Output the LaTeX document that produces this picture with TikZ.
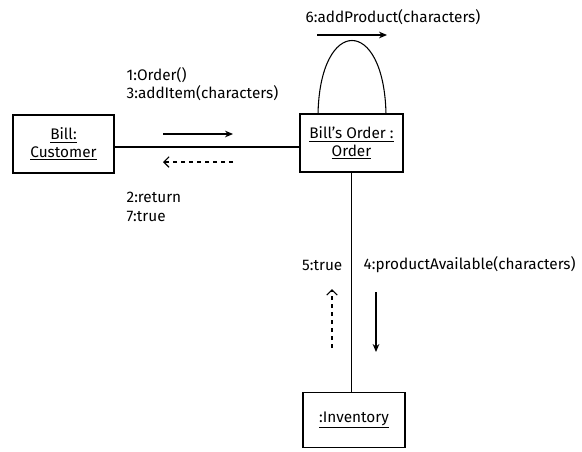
\documentclass[tikz,border=0pt]{standalone}
\usepackage{fontspec}
\setmainfont{Fira Sans}
\usetikzlibrary{arrows.meta}
\tikzset{
  objbox/.style={draw, line width=0.8pt, align=center, inner sep=2pt},
  msg/.style={-{Stealth[length=6pt,width=5pt]}, line width=0.8pt},
  reply/.style={-{Straight Barb[length=4pt]}, dashed, line width=0.8pt}
}
\begin{document}
\begin{tikzpicture}[x=0.75pt,y=0.75pt,yscale=-1,xscale=1,font=\fontsize{11.5}{14}\selectfont]
\useasboundingbox (0,0) rectangle (582,451);
% Objects
\node [objbox, minimum width=75.75pt, minimum height=43.5pt] (cust) at (63.5,144) {\underline{Bill:}\\[-1pt]\underline{Customer}};
\node [objbox, minimum width=77.25pt, minimum height=43.5pt] (ord) at (351.5,143) {\underline{Bill's Order :}\\[-1pt]\underline{Order}};
\node [objbox, minimum width=76.5pt, minimum height=41.25pt] (inv) at (354,420) {\underline{:Inventory}};
% Links
\draw [line width=0.8pt] (cust.east |- 0,147) -- (ord.west |- 0,147);
\draw [line width=0.8pt] (ord.south) -- (ord.south |- inv.north);
\coordinate (la) at (318,114);
\coordinate (lb) at (386,114);
\draw [line width=0.8pt] (la) .. controls (320,16) and (384,16) .. (lb);
% Messages customer - order
\coordinate (m1a) at (163,134);
\coordinate (m1b) at (233,134);
\draw [msg] (m1a) -- (m1b);
\coordinate (m2a) at (233,162);
\coordinate (m2b) at (163,162);
\draw [reply] (m2a) -- (m2b);
\node [anchor=west, align=left] (t13) at (122,84) {1:Order()\\3:addItem(characters)};
\node [anchor=west, align=left] (t27) at (122,207) {2:return\\7:true};
% Self message
\coordinate (m6a) at (317,35);
\coordinate (m6b) at (387,35);
\draw [msg] (m6a) -- (m6b);
\node (t6) at (393,17) {6:addProduct(characters)};
% Messages order - inventory
\coordinate (m4a) at (376,292);
\coordinate (m4b) at (376,352);
\draw [msg] (m4a) -- (m4b);
\coordinate (m5a) at (332,348);
\coordinate (m5b) at (332,289);
\draw [reply] (m5a) -- (m5b);
\node [anchor=east] (t5) at (347,265) {5:true};
\node [anchor=west] (t4) at (359,265) {4:productAvailable(characters)};
\end{tikzpicture}
\end{document}
